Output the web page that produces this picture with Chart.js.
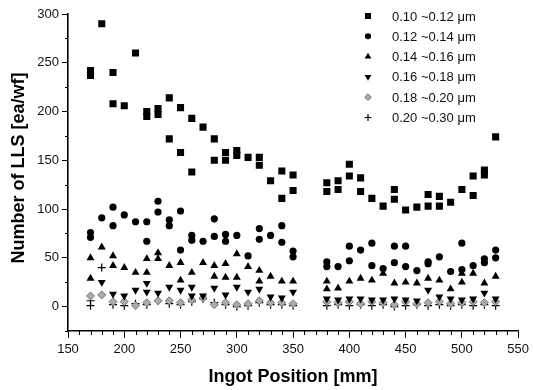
<!DOCTYPE html>
<html>
<head>
<meta charset="utf-8">
<script src="https://cdn.jsdelivr.net/npm/chart.js@4.4.1/dist/chart.umd.min.js"></script>
<style>
  body { margin: 0; background: #fff; }
  #wrap { width: 533px; height: 390px; }
</style>
</head>
<body>
<div id="wrap"><canvas id="llsChart" width="533" height="390"></canvas></div>
<script>
// --- data ---
const positions = [170, 180, 190, 200, 210, 220, 230, 240, 250, 260, 270, 280, 290, 300, 310, 320, 330, 340, 350,
                   380, 390, 400, 410, 420, 430, 440, 450, 460, 470, 480, 490, 500, 510, 520, 530];

const size010 = [[242, 237], [290], [240, 208], [206], [260], [200, 195], [203, 197], [214, 172], [204, 158], [193, 138],
                 [184], [172, 150], [158, 150], [160, 155], [153], [153, 145], [129], [139, 111], [135, 119],
                 [127, 118], [129, 120], [146, 134], [132, 118], [111], [103], [120, 110], [99], [102], [115, 103],
                 [113, 103], [107], [120], [134, 114], [140, 135], [174]];
const size012 = [[76, 71], [91], [102, 83], [94], [87], [87, 67], [108, 97], [89, 83], [98, 58], [73, 68],
                 [67], [90, 72], [74, 67], [73], [52], [80, 69], [73], [83, 66], [57, 51],
                 [46, 41], [41], [62, 47], [58], [65, 42], [39], [62, 45], [62, 41], [37], [46, 44],
                 [51], [36], [65, 38], [42], [49, 45], [58, 50]];
const size014 = [[50, 29], [61], [52, 42], [40], [35], [49, 35], [55, 49], [42], [45, 27], [35],
                 [45], [42, 31], [44, 30], [54, 30], [41], [37, 26], [31], [26], [26],
                 [26, 18], [19], [26], [29], [27], [34], [24], [25], [24], [29],
                 [27], [18], [34, 25], [34], [24], [31]];
const size016 = [[], [25], [13], [11], [17], [24, 15], [14], [20], [17], [20, 11],
                 [11], [19], [12], [20], [15], [18], [10], [9], [15],
                 [8], [7], [8], [8], [7], [7], [8], [7], [6], [17],
                 [10], [8], [7], [8], [14], [8]];
const size018 = [[11], [12], [5], [5], [1], [4], [6], [6], [4], [7],
                 [9], [2], [4], [2], [3], [6], [4], [4], [3],
                 [5], [4], [5], [3], [5], [4], [2], [5], [3], [4],
                 [5], [3], [4], [5], [4], [5]];
const size020 = [[6, 1], [40], [2], [1], [3], [2], [6], [3], [2], [5],
                 [8], [4], [2], [0], [1], [4], [2], [2], [1],
                 [1], [2], [1], [2], [1], [2], [0], [1], [2], [1],
                 [2], [1], [2], [1], [2], [1]];

const seriesLabels = ['0.10 ~0.12 \u03bcm', '0.12 ~0.14 \u03bcm', '0.14 ~0.16 \u03bcm',
                      '0.16 ~0.18 \u03bcm', '0.18 ~0.20 \u03bcm', '0.20 ~0.30 \u03bcm'];
const xTicks = [150, 200, 250, 300, 350, 400, 450, 500, 550];
const yTicks = [0, 50, 100, 150, 200, 250, 300];
const xTitle = 'Ingot Position [mm]';
const yTitle = 'Number of LLS [ea/wf]';

// --- helpers ---
const toPoints = (vals) => {
    const pts = [];
    vals.forEach((list, i) => list.forEach(v => pts.push({ x: positions[i], y: v })));
    return pts;
};

const styles = [
    { pointStyle: 'rect', radius: 5, rotation: 0, fill: '#000', stroke: '#000', borderWidth: 0 },
    { pointStyle: 'circle', radius: 3.6, rotation: 0, fill: '#000', stroke: '#000', borderWidth: 0 },
    { pointStyle: 'triangle', radius: 4.6, rotation: 0, fill: '#000', stroke: '#000', borderWidth: 0 },
    { pointStyle: 'triangle', radius: 4.6, rotation: 180, fill: '#000', stroke: '#000', borderWidth: 0 },
    { pointStyle: 'rectRot', radius: 4, rotation: 0, fill: '#aaa', stroke: '#777', borderWidth: 1 },
    { pointStyle: 'cross', radius: 4, rotation: 0, fill: '#000', stroke: '#000', borderWidth: 1.2 }
];
const allSeries = [size010, size012, size014, size016, size018, size020];

const datasets = allSeries.map((vals, i) => ({
    label: seriesLabels[i],
    data: toPoints(vals),
    pointStyle: styles[i].pointStyle,
    pointRadius: styles[i].radius,
    pointRotation: styles[i].rotation,
    pointBackgroundColor: styles[i].fill,
    pointBorderColor: styles[i].stroke,
    pointBorderWidth: styles[i].borderWidth,
    showLine: false
}));

const FONT = '"Liberation Sans", Arial, sans-serif';

// minor ticks, axis titles and the in-plot legend
const extras = {
    id: 'extras',
    afterDraw(chart) {
        const { ctx, scales: { x, y } } = chart;
        ctx.save();
        ctx.strokeStyle = '#000';
        ctx.lineWidth = 1;
        ctx.beginPath();
        for (let v = 150; v <= 550; v += 10) {
            if (v % 50 === 0) continue;
            const px = Math.round(x.getPixelForValue(v)) + 0.5;
            ctx.moveTo(px, y.bottom);
            ctx.lineTo(px, y.bottom + 4);
        }
        for (let v = -25; v <= 300; v += 50) {
            const py = Math.round(y.getPixelForValue(v)) + 0.5;
            ctx.moveTo(x.left, py);
            ctx.lineTo(x.left - 3, py);
        }
        ctx.stroke();

        ctx.fillStyle = '#000';
        ctx.font = 'bold 18px ' + FONT;
        ctx.textAlign = 'center';
        ctx.textBaseline = 'middle';
        ctx.fillText(xTitle, 293, 377);
        ctx.save();
        ctx.translate(19, 168);
        ctx.rotate(-Math.PI / 2);
        ctx.fillText(yTitle, 0, 0);
        ctx.restore();

        // legend
        ctx.font = '13px ' + FONT;
        ctx.textAlign = 'left';
        styles.forEach((s, i) => {
            const ly = 16 + i * 20.3;
            ctx.fillStyle = s.fill;
            ctx.strokeStyle = s.stroke;
            ctx.lineWidth = s.borderWidth || 1;
            Chart.helpers.drawPoint(ctx, {
                pointStyle: s.pointStyle,
                radius: s.radius * 0.85,
                rotation: s.rotation,
                borderWidth: s.borderWidth
            }, 368, ly);
            ctx.fillStyle = '#111';
            ctx.fillText(seriesLabels[i], 392, ly + 1);
        });
        ctx.restore();
    }
};

new Chart(document.getElementById('llsChart').getContext('2d'), {
    type: 'scatter',
    data: { datasets: datasets },
    options: {
        responsive: false,
        animation: false,
        devicePixelRatio: 1,
        layout: { padding: { left: 0, right: 11, top: 14, bottom: 0 } },
        plugins: { legend: { display: false }, tooltip: { enabled: false } },
        scales: {
            x: {
                type: 'linear',
                min: 150,
                max: 550,
                afterBuildTicks: (axis) => { axis.ticks = xTicks.map(v => ({ value: v })); },
                afterFit: (axis) => { axis.height = 59; },
                ticks: { color: '#111', font: { size: 13, family: FONT }, padding: 4, maxRotation: 0 },
                grid: { display: true, drawOnChartArea: false, color: '#000', tickLength: 7, lineWidth: 1 },
                border: { display: true, color: '#000', width: 1.6 }
            },
            y: {
                type: 'linear',
                min: -25,
                max: 300,
                afterBuildTicks: (axis) => { axis.ticks = yTicks.map(v => ({ value: v })); },
                afterFit: (axis) => { axis.width = 68; },
                ticks: { color: '#111', font: { size: 13, family: FONT }, padding: 3 },
                grid: { display: true, drawOnChartArea: false, color: '#000', tickLength: 6, lineWidth: 1 },
                border: { display: true, color: '#000', width: 1.6 }
            }
        }
    },
    plugins: [extras]
});
</script>
</body>
</html>
